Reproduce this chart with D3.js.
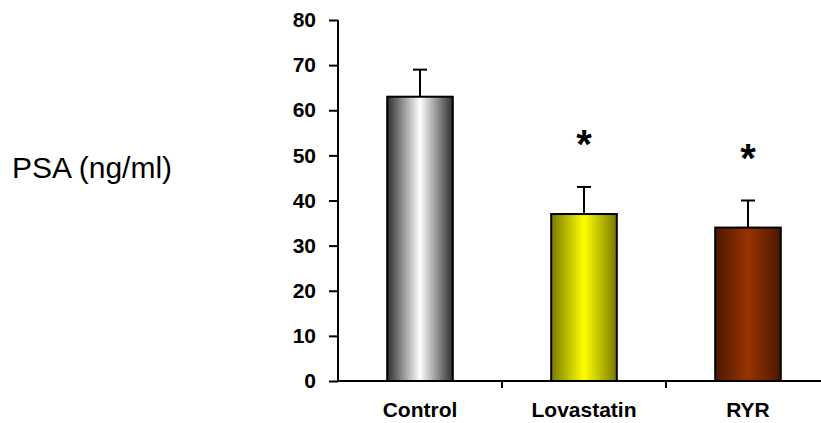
<!DOCTYPE html>
<html>
<head>
<meta charset="utf-8">
<script src="https://cdn.jsdelivr.net/npm/d3@7"></script>
<style>
body { margin: 0; background: #fff; }
text { font-family: "Liberation Sans", Arial, sans-serif; }
</style>
</head>
<body>
<div id="chart"></div>
<script>
var width = 821;
var height = 423;

// data
var categories = ["Control", "Lovastatin", "RYR"];
var values = [63, 37, 34];
var errors = [6, 6, 6];
var signif = [false, true, true];
var yTicks = [0, 10, 20, 30, 40, 50, 60, 70, 80];

// gradient stops: edge, center
var colors = [["#2e2e2e", "#ffffff"], ["#7a7a00", "#ffff00"], ["#4a1800", "#993300"]];

var svg = d3.select("#chart")
    .append("svg")
    .attr("width", width)
    .attr("height", height);

var defs = svg.append("defs");
colors.forEach(function(c, i) {
    var g = defs.append("linearGradient")
        .attr("id", "grad" + i)
        .attr("x1", "0%").attr("x2", "100%")
        .attr("y1", "0%").attr("y2", "0%");
    g.append("stop").attr("offset", "0%").attr("stop-color", c[0]);
    g.append("stop").attr("offset", "50%").attr("stop-color", c[1]);
    g.append("stop").attr("offset", "100%").attr("stop-color", c[0]);
});

var x = d3.scaleBand()
    .domain(categories)
    .range([338, 830])
    .paddingInner(0.6)
    .paddingOuter(0.3);

var y = d3.scaleLinear()
    .domain([0, 80])
    .range([381, 20]);

// y axis
var yAxis = svg.append("g")
    .attr("transform", "translate(338,0)")
    .call(d3.axisLeft(y).tickValues(yTicks).tickSize(9).tickPadding(13));
yAxis.select(".domain").attr("stroke-width", 2).attr("d", "M0," + y(80) + "V" + y(0));
yAxis.selectAll(".tick line").attr("stroke-width", 2);
yAxis.selectAll(".tick text")
    .attr("font-size", 21)
    .attr("font-weight", "bold")
    .attr("font-family", "Liberation Sans, Arial, sans-serif")
    .attr("fill", "#000");

// x axis
var xAxisG = svg.append("g").attr("transform", "translate(0," + y(0) + ")");
xAxisG.append("line")
    .attr("x1", 338).attr("x2", 830)
    .attr("stroke", "#000").attr("stroke-width", 2);
var step = x.step();
// boundaries between categories
xAxisG.selectAll(".xtick")
    .data(categories.slice(1))
    .enter().append("line")
    .attr("x1", function(d) { return x(d) + x.bandwidth() / 2 - step / 2; })
    .attr("x2", function(d) { return x(d) + x.bandwidth() / 2 - step / 2; })
    .attr("y1", 0).attr("y2", 7)
    .attr("stroke", "#000").attr("stroke-width", 2);
xAxisG.selectAll(".xlab")
    .data(categories)
    .enter().append("text")
    .attr("x", function(d) { return x(d) + x.bandwidth() / 2; })
    .attr("y", 36)
    .attr("text-anchor", "middle")
    .attr("font-size", 21)
    .attr("font-weight", "bold")
    .text(function(d) { return d; });

// error bars
var eb = svg.selectAll(".err")
    .data(categories)
    .enter().append("g");
eb.append("line")
    .attr("x1", function(d) { return x(d) + x.bandwidth() / 2; })
    .attr("x2", function(d) { return x(d) + x.bandwidth() / 2; })
    .attr("y1", function(d, i) { return y(values[i]); })
    .attr("y2", function(d, i) { return y(values[i] + errors[i]); })
    .attr("stroke", "#000").attr("stroke-width", 2);
eb.append("line")
    .attr("x1", function(d) { return x(d) + x.bandwidth() / 2 - 7; })
    .attr("x2", function(d) { return x(d) + x.bandwidth() / 2 + 7; })
    .attr("y1", function(d, i) { return y(values[i] + errors[i]); })
    .attr("y2", function(d, i) { return y(values[i] + errors[i]); })
    .attr("stroke", "#000").attr("stroke-width", 2);

// bars
svg.selectAll(".bar")
    .data(categories)
    .enter().append("rect")
    .attr("x", function(d) { return x(d); })
    .attr("width", x.bandwidth())
    .attr("y", function(d, i) { return y(values[i]); })
    .attr("height", function(d, i) { return y(0) - y(values[i]); })
    .attr("fill", function(d, i) { return "url(#grad" + i + ")"; })
    .attr("stroke", "#000")
    .attr("stroke-width", 2);

// significance stars
svg.selectAll(".star")
    .data(categories.filter(function(d, i) { return signif[i]; }))
    .enter().append("text")
    .attr("x", function(d) { return x(d) + x.bandwidth() / 2; })
    .attr("y", function(d) {
        var i = categories.indexOf(d);
        return y(values[i] + errors[i]) - 29;
    })
    .attr("text-anchor", "middle")
    .attr("font-size", 40)
    .attr("font-weight", "bold")
    .text("*");

// y label
svg.append("text")
    .attr("x", 12)
    .attr("y", 178)
    .attr("font-size", 30)
    .text("PSA (ng/ml)");
</script>
</body>
</html>
